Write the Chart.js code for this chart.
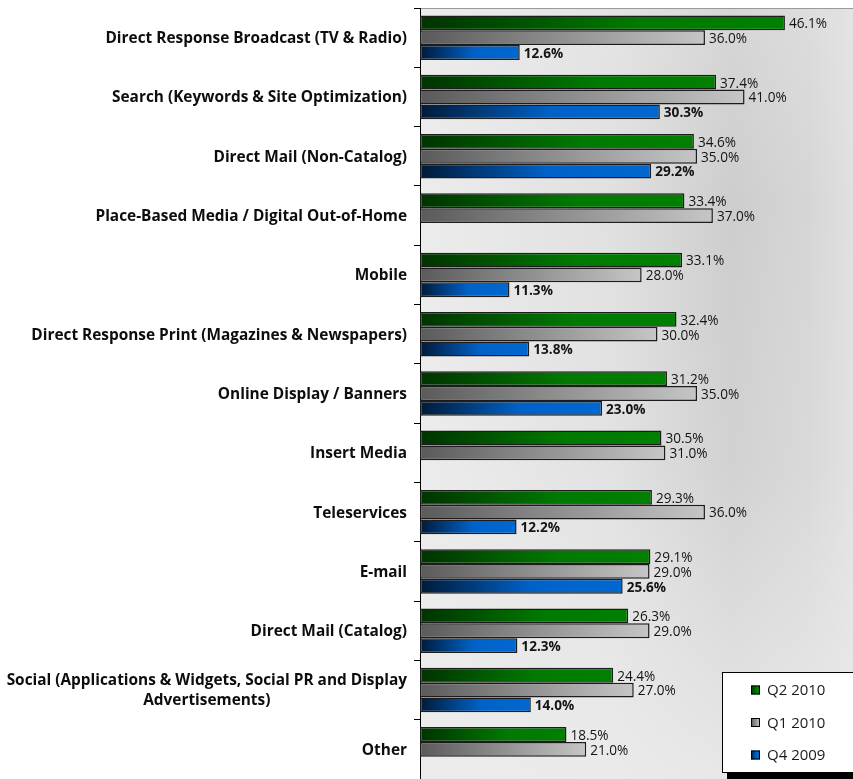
<!DOCTYPE html>
<html>
<head>
<meta charset="utf-8">
<script src="https://cdn.jsdelivr.net/npm/chart.js@4/dist/chart.umd.min.js"></script>
<style>
  body { margin: 0; background: #fff; }
  #chart { display: block; }
</style>
</head>
<body>
<canvas id="chart" width="853" height="779"></canvas>
<script>
const categories = [
    'Direct Response Broadcast (TV & Radio)',
    'Search (Keywords & Site Optimization)',
    'Direct Mail (Non-Catalog)',
    'Place-Based Media / Digital Out-of-Home',
    'Mobile',
    'Direct Response Print (Magazines & Newspapers)',
    'Online Display / Banners',
    'Insert Media',
    'Teleservices',
    'E-mail',
    'Direct Mail (Catalog)',
    ['Social (Applications & Widgets, Social PR and Display', 'Advertisements)'],
    'Other'
];
const seriesNames = ['Q2 2010', 'Q1 2010', 'Q4 2009'];
const q2_2010 = [46.1, 37.4, 34.6, 33.4, 33.1, 32.4, 31.2, 30.5, 29.3, 29.1, 26.3, 24.4, 18.5];
const q1_2010 = [36.0, 41.0, 35.0, 37.0, 28.0, 30.0, 35.0, 31.0, 36.0, 29.0, 29.0, 27.0, 21.0];
const q4_2009 = [12.6, 30.3, 29.2, null, 11.3, 13.8, 23.0, null, 12.2, 25.6, 12.3, 14.0, null];

// gradient stops per series: dark at the axis, bright towards the bar end
const fills = [
    [[0, '#003300'], [0.6, '#007a00'], [1, '#008000']],
    [[0, '#5a5a5a'], [1, '#c6c6c6']],
    [[0, '#001a38'], [0.55, '#0062c8'], [1, '#0068d0']]
];

function barFill(series) {
    return function(ctx) {
        const chart = ctx.chart;
        const stops = fills[series];
        if (!chart.chartArea || ctx.raw == null) return stops[stops.length - 1][1];
        const x = chart.scales.x;
        const x0 = x.getPixelForValue(0);
        const x1 = x.getPixelForValue(ctx.raw);
        const g = chart.ctx.createLinearGradient(x0, 0, Math.max(x1, x0 + 1), 0);
        stops.forEach(s => g.addColorStop(s[0], s[1]));
        return g;
    };
}

// plot background: light grey with a darker band towards the right
const plotBackground = {
    id: 'plotBackground',
    beforeDraw(chart) {
        const {ctx, chartArea: a} = chart;
        ctx.save();
        const g = ctx.createLinearGradient(a.left, 0, a.right, 0);
        g.addColorStop(0, '#ececec');
        g.addColorStop(0.45, '#e0e0e0');
        g.addColorStop(0.72, '#cdcdcd');
        g.addColorStop(0.9, '#d6d6d6');
        g.addColorStop(1, '#e0e0e0');
        ctx.fillStyle = g;
        ctx.fillRect(a.left, a.top, a.right - a.left, a.bottom - a.top);
        const v = ctx.createLinearGradient(0, a.top, 0, a.bottom);
        v.addColorStop(0, 'rgba(236,236,236,0.3)');
        v.addColorStop(0.25, 'rgba(236,236,236,0)');
        v.addColorStop(0.6, 'rgba(236,236,236,0.15)');
        v.addColorStop(1, 'rgba(236,236,236,0.85)');
        ctx.fillStyle = v;
        ctx.fillRect(a.left, a.top, a.right - a.left, a.bottom - a.top);
        ctx.strokeStyle = '#9a9a9a';
        ctx.lineWidth = 1;
        ctx.beginPath();
        ctx.moveTo(a.left, a.top + 0.5);
        ctx.lineTo(a.right, a.top + 0.5);
        ctx.stroke();
        ctx.restore();
    }
};

// category names: right aligned block, lines centred within the block
const categoryLabels = {
    id: 'categoryLabels',
    afterDraw(chart) {
        const {ctx} = chart;
        const y = chart.scales.y;
        const right = chart.chartArea.left - 13;
        ctx.save();
        ctx.font = 'bold 15.4px "Open Sans"';
        ctx.fillStyle = '#0d0d0d';
        ctx.textAlign = 'center';
        ctx.textBaseline = 'middle';
        categories.forEach((c, i) => {
            const lines = Array.isArray(c) ? c : [c];
            const w = Math.max(...lines.map(l => ctx.measureText(l).width));
            const cy = y.getPixelForValue(i);
            const lh = 20;
            lines.forEach((l, k) => {
                ctx.fillText(l, right - w / 2, cy + 1 + (k - (lines.length - 1) / 2) * lh);
            });
        });
        ctx.restore();
    }
};

// percentage labels at the end of each bar
const valueLabels = {
    id: 'valueLabels',
    afterDatasetsDraw(chart) {
        const {ctx} = chart;
        ctx.save();
        ctx.fillStyle = '#141414';
        ctx.textAlign = 'left';
        ctx.textBaseline = 'middle';
        chart.data.datasets.forEach((ds, di) => {
            const meta = chart.getDatasetMeta(di);
            ctx.font = (di === 2 ? 'bold ' : '') + '13.6px "Open Sans"';
            meta.data.forEach((el, i) => {
                const v = ds.data[i];
                if (v == null) return;
                ctx.fillText(v.toFixed(1) + '%', el.x + 4, el.y + 1.5);
            });
        });
        ctx.restore();
    }
};

// legend box in the lower right corner
const legendBox = {
    id: 'legendBox',
    afterDraw(chart) {
        const {ctx} = chart;
        const bx = 722, by = 672, bw = 140, bh = 100;
        ctx.save();
        ctx.fillStyle = '#000';
        ctx.fillRect(bx + 5, by + bh, bw, 8);
        ctx.fillStyle = '#fff';
        ctx.fillRect(bx, by, bw, bh);
        ctx.strokeStyle = '#000';
        ctx.lineWidth = 1;
        ctx.strokeRect(bx + 0.5, by + 0.5, bw, bh);
        ctx.font = '15px "Open Sans"';
        ctx.textBaseline = 'middle';
        seriesNames.forEach((name, i) => {
            const cy = by + 18 + i * 32.5;
            const sx = 751, s = 9;
            const g = ctx.createLinearGradient(sx, 0, sx + s, 0);
            fills[i].forEach(st => g.addColorStop(st[0], st[1]));
            ctx.fillStyle = g;
            ctx.fillRect(sx, cy - s / 2, s, s);
            ctx.strokeStyle = '#000';
            ctx.strokeRect(sx + 0.5, cy - s / 2 + 0.5, s - 1, s - 1);
            ctx.fillStyle = '#1a1a1a';
            ctx.fillText(name, 767, cy + 1);
        });
        ctx.restore();
    }
};

const datasets = [q2_2010, q1_2010, q4_2009].map((data, i) => ({
    label: seriesNames[i],
    data: data,
    backgroundColor: barFill(i),
    borderColor: '#1c1c1c',
    borderWidth: 1.5,
    borderSkipped: false,
    categoryPercentage: 0.75,
    barPercentage: 1.0
}));

new Chart(document.getElementById('chart'), {
    type: 'bar',
    data: { labels: categories, datasets: datasets },
    options: {
        indexAxis: 'y',
        responsive: false,
        animation: false,
        layout: { padding: { top: 8, right: 0, bottom: 0, left: 0 } },
        plugins: {
            legend: { display: false },
            tooltip: { enabled: false }
        },
        scales: {
            x: {
                display: false,
                min: 0,
                max: 54.7
            },
            y: {
                offset: true,
                afterFit(scale) { scale.width = 420; },
                grid: {
                    offset: true,
                    drawOnChartArea: false,
                    drawTicks: true,
                    tickLength: 6,
                    color: '#000'
                },
                border: { display: true, color: '#000', width: 1 },
                ticks: { display: false }
            }
        }
    },
    plugins: [plotBackground, valueLabels, categoryLabels, legendBox]
});
</script>
</body>
</html>
